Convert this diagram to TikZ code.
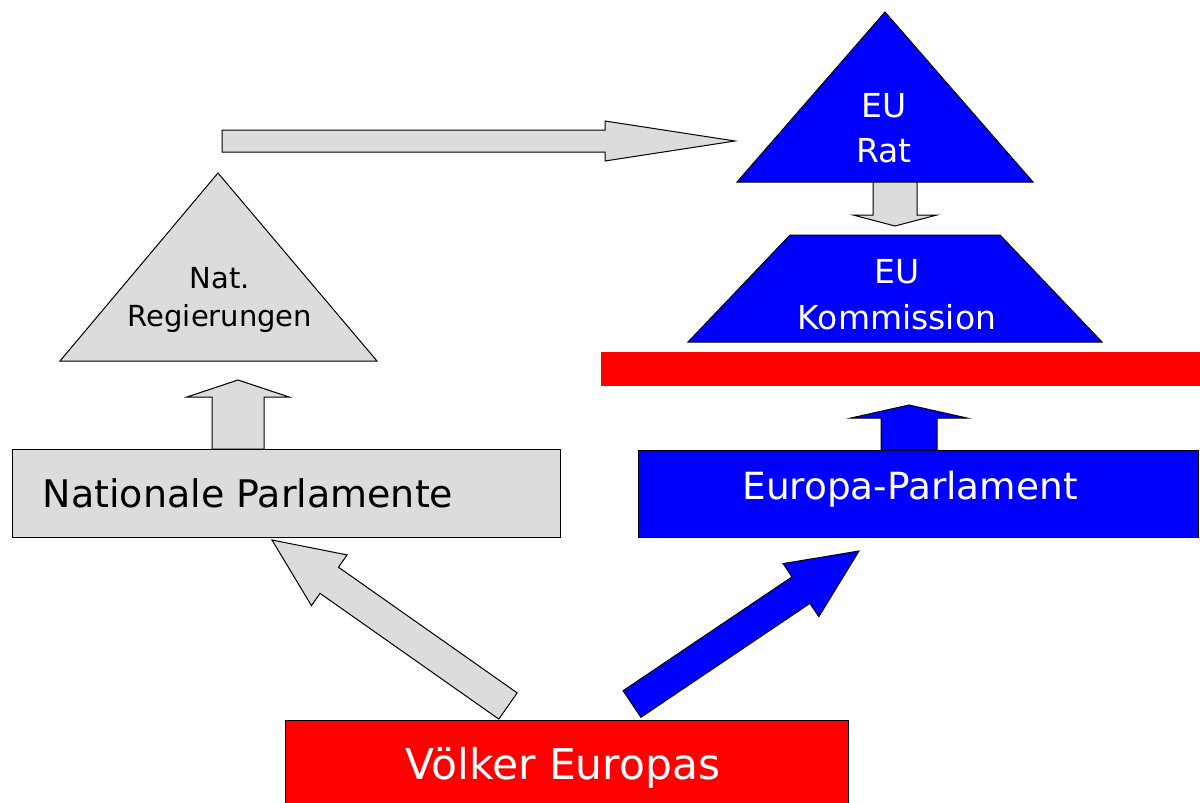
\documentclass[tikz,border=0pt]{standalone}
\usepackage{fontspec}
\setmainfont{DejaVu Sans}
\usetikzlibrary{calc}
\definecolor{grayfill}{HTML}{DCDCDC}
\definecolor{eublue}{HTML}{0000FF}
\definecolor{eured}{HTML}{FF0000}
\tikzset{
  outl/.style={draw=black, line width=0.5pt, line join=miter},
  grayshape/.style={outl, fill=grayfill},
  blueshape/.style={outl, fill=eublue},
  redshape/.style={outl, fill=eured},
  boxnode/.style={rectangle, inner sep=0pt},
  lbl/.style={align=center, inner sep=0pt},
}
% #1 style, #2 from, #3 to, #4 half shaft, #5 half head, #6 head length
\newcommand{\blockarrow}[6]{%
  \coordinate (H) at ($(#3)!#6!(#2)$);
  \draw[#1] ($(#2)!#4!90:(#3)$) -- ($(H)!#4!90:(#3)$) -- ($(H)!#5!90:(#3)$)
    -- (#3) -- ($(H)!#5!-90:(#3)$) -- ($(H)!#4!-90:(#3)$)
    -- ($(#2)!#4!-90:(#3)$) -- cycle;
}
\begin{document}
\begin{tikzpicture}[x=0.5pt,y=-0.5pt]
\useasboundingbox (0,0) rectangle (1200,803);
\fill[white] (0,0) rectangle (1200,803);

% shapes
\draw[grayshape] (60,361) -- (218,173) -- (377,361) -- cycle;
\draw[blueshape] (737,182) -- (885,12) -- (1033,182) -- cycle;
\draw[blueshape] (688,342) -- (790,235) -- (1000,235) -- (1102,342) -- cycle;
\fill[eured] (601,352) rectangle (1205,386);

% endpoints of connectors
\coordinate (a1s) at (222,141);  \coordinate (a1e) at (735,141);
\coordinate (a2s) at (238,449);  \coordinate (a2e) at (238,380);
\coordinate (a3s) at (895,182);  \coordinate (a3e) at (895,226);
\coordinate (a4s) at (909,450);  \coordinate (a4e) at (909,405);
\coordinate (a5s) at (508,706);  \coordinate (a5e) at (272,540);
\coordinate (a6s) at (632,704);  \coordinate (a6e) at (859,551);

\blockarrow{grayshape}{a1s}{a1e}{5.5pt}{10pt}{65pt}
\blockarrow{grayshape}{a2s}{a2e}{13pt}{25.5pt}{8.5pt}
\blockarrow{grayshape}{a3s}{a3e}{11pt}{21pt}{5.5pt}
\blockarrow{blueshape}{a4s}{a4e}{14pt}{29pt}{6.5pt}
\blockarrow{grayshape}{a5s}{a5e}{8pt}{15.5pt}{35pt}
\blockarrow{blueshape}{a6s}{a6e}{8pt}{16pt}{35pt}

% boxes
\node[boxnode, grayshape, minimum width=274pt, minimum height=44pt] (np) at (286,493) {};
\node[boxnode, blueshape, minimum width=280pt, minimum height=43.5pt] (ep) at (918,493.5) {};
\node[boxnode, redshape, minimum width=281.5pt, minimum height=45pt] (ve) at (566.5,765) {};

% labels
\node[lbl, font=\fontsize{19}{23}\selectfont] (npt) at (248,493) {Nationale Parlamente};
\node[lbl, white, font=\fontsize{18.7}{22}\selectfont] (ept) at (910,489) {Europa-Parlament};
\node[lbl, white, font=\fontsize{21.2}{24}\selectfont] (vet) at (563,768) {Völker Europas};
\node[lbl, white, font=\fontsize{16.5}{22.5}\selectfont] (rat) at (884,128) {EU\\Rat};
\node[lbl, white, font=\fontsize{16.5}{23}\selectfont] (kom) at (897,295) {EU\\Kommission};
\node[lbl, font=\fontsize{14.5}{19}\selectfont] (nat) at (220,300) {Nat.\\Regierungen};
\end{tikzpicture}
\end{document}
